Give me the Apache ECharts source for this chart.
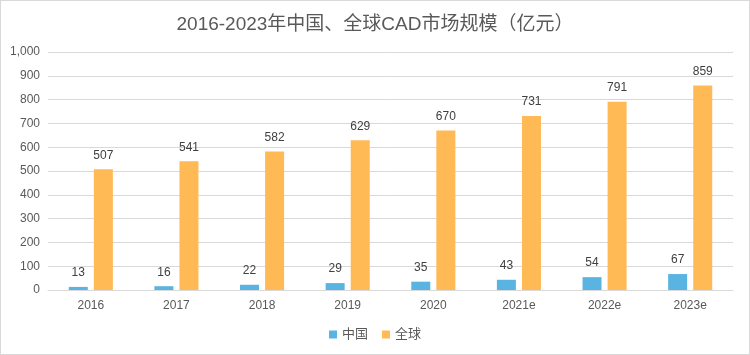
<!DOCTYPE html>
<html><head><meta charset="utf-8">
<script src="https://cdn.jsdelivr.net/npm/echarts@6/dist/echarts.min.js"></script>
<style>html,body{margin:0;padding:0;background:#fff}#c{width:748px;height:353px;border:1px solid #d9d9d9}</style>
</head><body><div id="c"></div>
<script>
const categories = ['2016','2017','2018','2019','2020','2021e','2022e','2023e'];
const chinaValues = [13,16,22,29,35,43,54,67];
const globalValues = [507,541,582,629,670,731,791,859];
const chart = echarts.init(document.getElementById('c'));
const font = '"Liberation Sans","Noto Sans CJK SC",sans-serif';
chart.setOption({
  animation:false,
  textStyle:{fontFamily:font},
  title:{text:'2016-2023年中国、全球CAD市场规模（亿元）',left:'center',top:9,textStyle:{fontSize:19,fontWeight:'normal',color:'#595959',fontFamily:font}},
  legend:{bottom:8,left:'center',itemWidth:8,itemHeight:8,itemGap:14,icon:'rect',textStyle:{color:'#595959',fontSize:13,fontFamily:font},data:['中国','全球']},
  grid:{left:47,right:16,top:51,bottom:64},
  xAxis:{type:'category',data:categories,axisTick:{show:false},axisLine:{lineStyle:{color:'#d9d9d9'}},axisLabel:{color:'#595959',fontSize:12,margin:10}},
  yAxis:{type:'value',min:0,max:1000,interval:100,axisLabel:{color:'#595959',fontSize:12,margin:8,formatter:v=>v.toLocaleString('en-US')},splitLine:{lineStyle:{color:'#d9d9d9'}}},
  series:[
    {name:'中国',type:'bar',data:chinaValues,barWidth:19,barGap:'32%',itemStyle:{color:'#5AB4E2'},label:{show:true,position:'top',distance:8,color:'#404040',fontSize:12}},
    {name:'全球',type:'bar',data:globalValues,barWidth:19,itemStyle:{color:'#FFB955'},label:{show:true,position:'top',distance:8,color:'#404040',fontSize:12}}
  ]
});
</script></body></html>
